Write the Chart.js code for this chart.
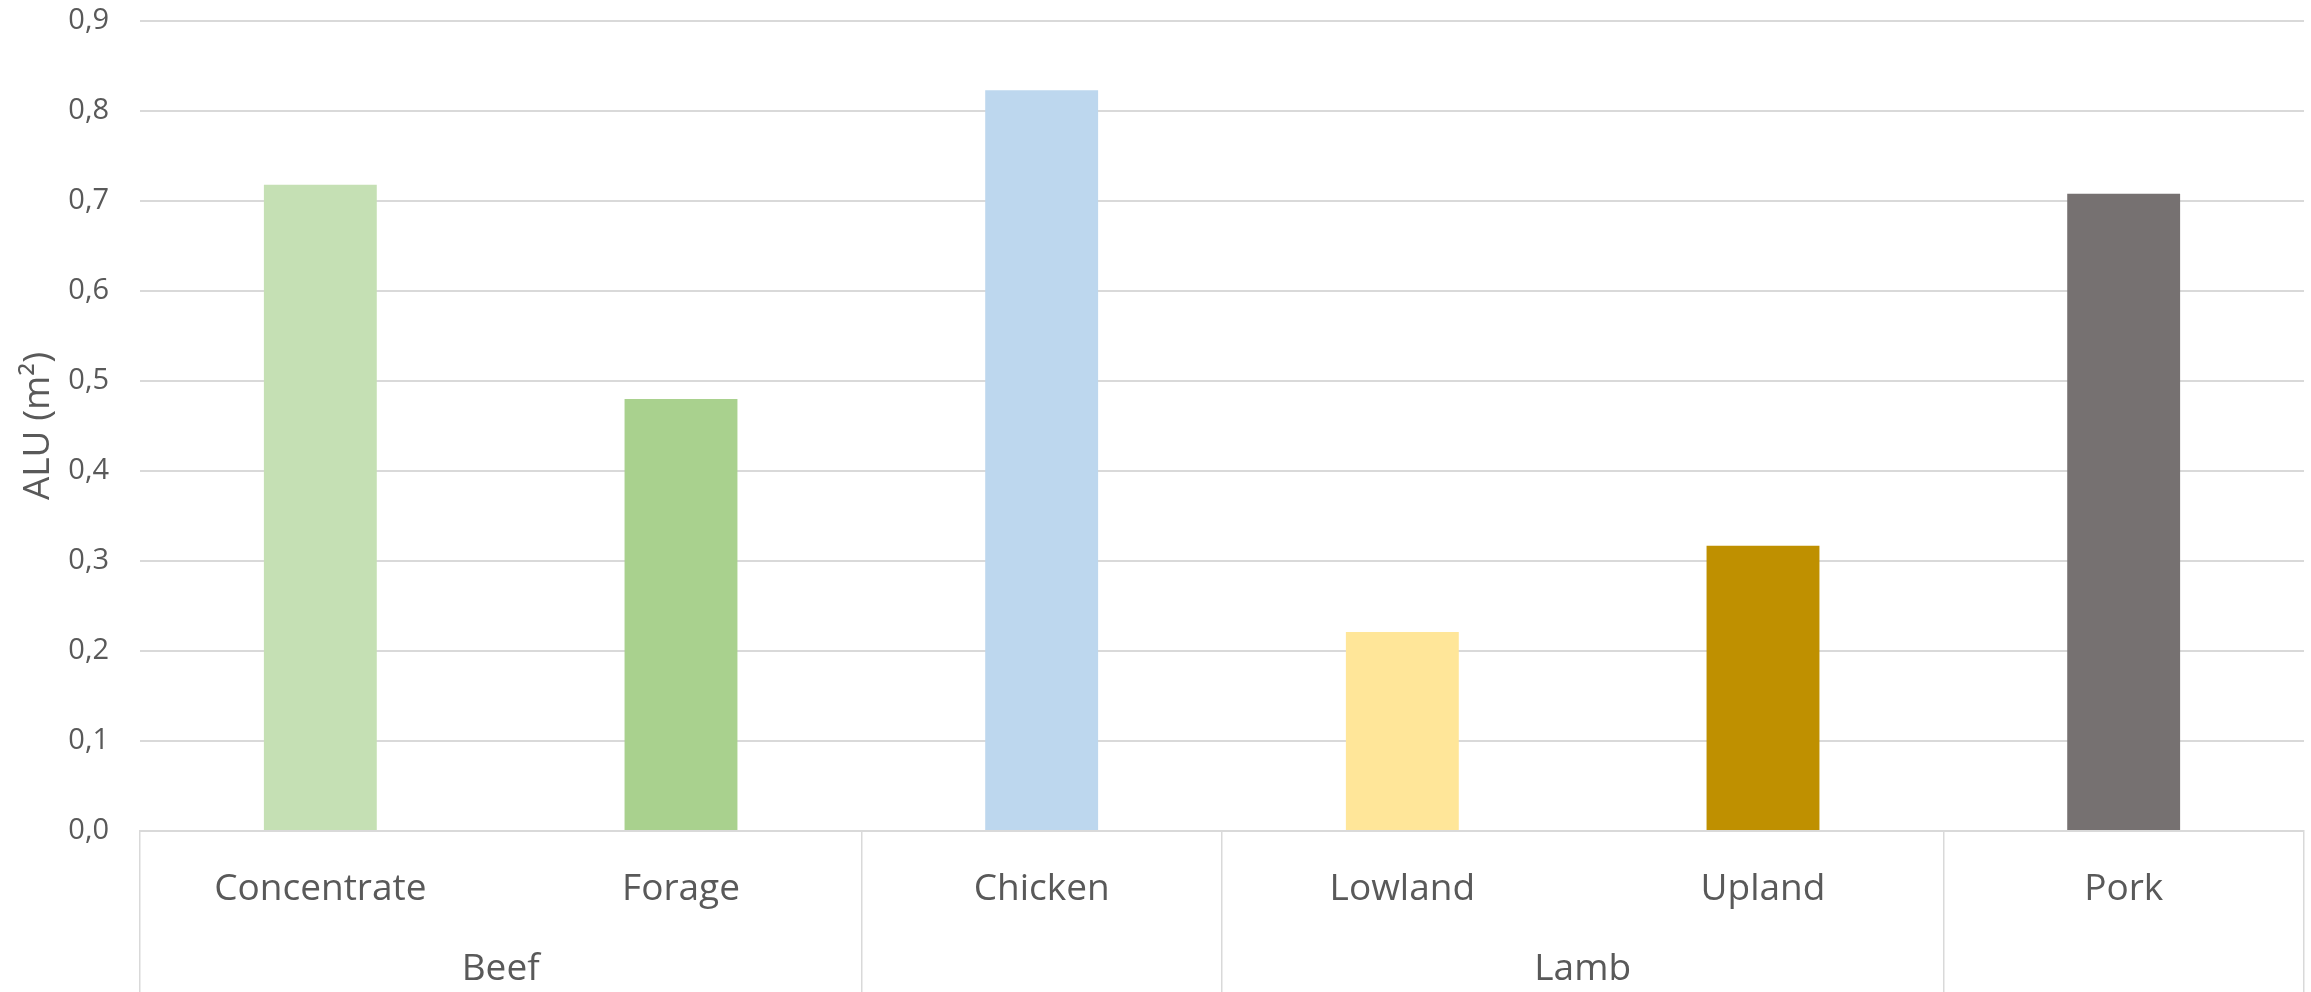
<!DOCTYPE html>
<html>
<head>
<meta charset="utf-8">
<script src="https://cdn.jsdelivr.net/npm/chart.js@4.4.1/dist/chart.umd.min.js"></script>
<style>
  html, body { margin: 0; padding: 0; background: #fff; }
  #wrap { width: 2311px; height: 992px; position: relative; }
</style>
</head>
<body>
<div id="wrap"><canvas id="aluChart"></canvas></div>
<script>
// ALU per product, grouped by animal type
const categories = ['Concentrate', 'Forage', 'Chicken', 'Lowland', 'Upland', 'Pork'];
const groups = ['Beef', 'Beef', '', 'Lamb', 'Lamb', ''];
const aluValues = [0.718, 0.48, 0.823, 0.221, 0.317, 0.708];
const barColors = ['#C5E0B4', '#A9D18E', '#BDD7EE', '#FFE699', '#BF9000', '#767171'];
const yTicks = [0, 0.1, 0.2, 0.3, 0.4, 0.5, 0.6, 0.7, 0.8, 0.9];

const TEXT = '#595959';
const LINE = '#d9d9d9';
const FONT = "'Open Sans', sans-serif";

// a divider goes in front of category i when the group changes (or stands alone)
function isBoundary(i) {
  if (i <= 0 || i >= categories.length) return true;
  return groups[i] === '' || groups[i] !== groups[i - 1];
}

// centre of each named group, in category units (0..n)
const groupCentres = {};
let start = 0;
for (let i = 1; i <= categories.length; i++) {
  if (i === categories.length || isBoundary(i)) {
    if (groups[start]) groupCentres[(start + i) / 2] = groups[start];
    start = i;
  }
}

const ctx = document.getElementById('aluChart').getContext('2d');
const aluChart = new Chart(ctx, {
  type: 'bar',
  data: {
    labels: categories,
    datasets: [{
      data: aluValues,
      backgroundColor: barColors,
      borderWidth: 0,
      barPercentage: 0.313,
      categoryPercentage: 1
    }]
  },
  options: {
    responsive: true,
    maintainAspectRatio: false,
    animation: false,
    layout: { padding: { top: 21, right: 7, left: 0, bottom: 0 } },
    plugins: { legend: { display: false }, tooltip: { enabled: false } },
    scales: {
      y: {
        min: 0,
        max: 0.9,
        afterBuildTicks: (scale) => { scale.ticks = yTicks.map(v => ({ value: v })); },
        afterFit: (scale) => {
          scale.width = 140;
          scale.paddingTop = 0;
          scale.paddingBottom = 0;
        },
        ticks: {
          color: TEXT,
          font: { family: FONT, size: 29 },
          padding: 31,
          callback: (v) => Number(v).toFixed(1).replace('.', ',')
        },
        grid: { color: LINE, lineWidth: 2, drawTicks: false },
        border: { display: false },
        title: {
          display: true,
          text: 'ALU (m²)',
          color: TEXT,
          font: { family: FONT, size: 37 },
          padding: { top: 16, bottom: 0 }
        }
      },
      x: {
        weight: 0,
        afterFit: (scale) => { scale.height = 90; },
        ticks: {
          color: TEXT,
          font: { family: FONT, size: 37 },
          padding: -54,
          maxRotation: 0,
          autoSkip: false
        },
        grid: {
          drawOnChartArea: false,
          tickLength: 90,
          lineWidth: 1.5,
          color: (c) => isBoundary(c.index === undefined ? categories.length : c.index) ? LINE : 'rgba(0,0,0,0)'
        },
        border: { color: LINE, width: 2 }
      },
      x2: {
        type: 'linear',
        position: 'bottom',
        weight: 1,
        offset: false,
        min: 0,
        max: categories.length,
        afterFit: (scale) => { scale.height = 71; },
        afterBuildTicks: (scale) => {
          const vals = [];
          for (let i = 0; i <= categories.length; i++) if (isBoundary(i)) vals.push(i);
          Object.keys(groupCentres).forEach(k => vals.push(Number(k)));
          scale.ticks = vals.sort((a, b) => a - b).map(v => ({ value: v }));
        },
        ticks: {
          color: TEXT,
          font: { family: FONT, size: 37 },
          padding: -45,
          maxRotation: 0,
          autoSkip: false,
          callback: (v) => groupCentres[v] || ''
        },
        grid: {
          offset: false,
          drawOnChartArea: false,
          tickLength: 71,
          lineWidth: 1.5,
          color: (c) => (c.tick && Number.isInteger(c.tick.value) && isBoundary(c.tick.value)) ? LINE : 'rgba(0,0,0,0)'
        },
        border: { display: false }
      }
    }
  }
});
</script>
</body>
</html>
